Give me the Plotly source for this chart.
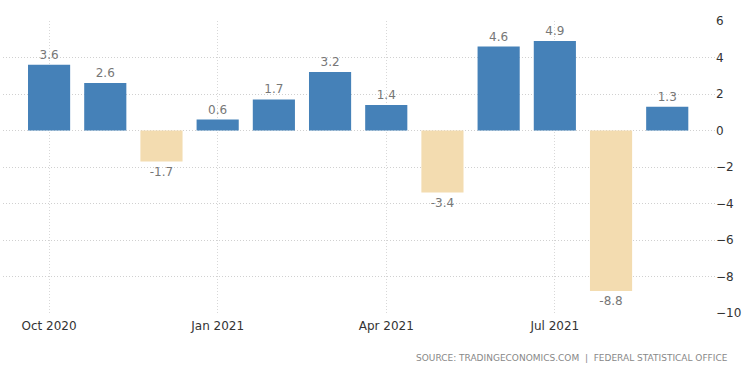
import plotly.graph_objects as go

months = ["Oct 2020", "Nov 2020", "Dec 2020", "Jan 2021", "Feb 2021", "Mar 2021",
          "Apr 2021", "May 2021", "Jun 2021", "Jul 2021", "Aug 2021", "Sep 2021"]
values = [3.6, 2.6, -1.7, 0.6, 1.7, 3.2, 1.4, -3.4, 4.6, 4.9, -8.8, 1.3]
tick_labels = ["Oct 2020", "Jan 2021", "Apr 2021", "Jul 2021"]
y_ticks = [6, 4, 2, 0, -2, -4, -6, -8, -10]

idx = list(range(len(months)))
colors = ["#4581B8" if v >= 0 else "#F3DCB0" for v in values]

fig = go.Figure(go.Bar(
    x=idx, y=values, width=0.75,
    marker=dict(color=colors, line=dict(width=0)),
    text=[f"{v:.1f}" for v in values], textposition="outside",
    textfont=dict(family="DejaVu Sans", size=12, color="#777777"),
    cliponaxis=False, hoverinfo="skip",
))

fig.update_layout(
    width=750, height=375,
    margin=dict(l=3, r=35, t=21, b=62, autoexpand=False),
    plot_bgcolor="white", paper_bgcolor="white",
    showlegend=False, bargap=0.25,
    xaxis=dict(
        range=[-0.82, 11.85], automargin=False,
        tickvals=[months.index(t) for t in tick_labels], ticktext=tick_labels,
        showgrid=True, gridcolor="#d8d8d8", griddash="1px,2px", gridwidth=1,
        zeroline=False, showline=False, ticks="", ticklabelstandoff=4,
        tickfont=dict(family="DejaVu Sans", size=12, color="#333333"),
    ),
    yaxis=dict(
        side="right", range=[-10, 6], tickvals=y_ticks, automargin=False,
        showgrid=True, gridcolor="#d0d0d0", griddash="1px,2px", gridwidth=1,
        zeroline=False, showline=False, ticks="",
        tickfont=dict(family="DejaVu Sans", size=12, color="#333333"),
    ),
    annotations=[dict(
        text="SOURCE: TRADINGECONOMICS.COM  |  FEDERAL STATISTICAL OFFICE",
        xref="paper", yref="paper", x=1.021, y=-0.154, xanchor="right", yanchor="middle",
        showarrow=False, font=dict(family="DejaVu Sans", size=9, color="#888888"),
    )],
)

fig.write_html("out.html", config={"displayModeBar": False},
               post_script="document.body.style.margin='0';")
